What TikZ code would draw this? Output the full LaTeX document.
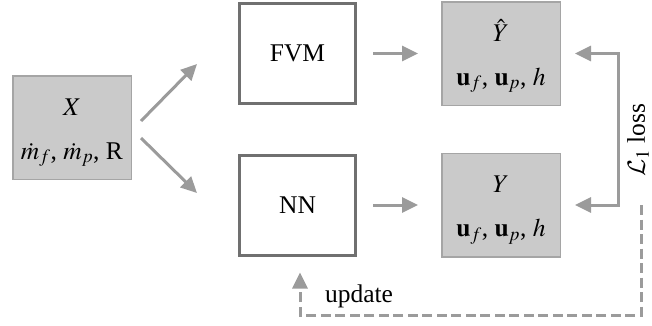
\documentclass[tikz,border=0pt]{standalone}
\usepackage{mathptmx}
\usepackage{fontspec}
\setmainfont{Liberation Serif}
\DeclareMathAlphabet{\mycal}{OMS}{cmsy}{m}{n}
\usetikzlibrary{arrows.meta}
\definecolor{arrgray}{RGB}{155,155,155}
\definecolor{darkbox}{RGB}{112,112,112}
\definecolor{fillg}{RGB}{202,202,202}
\definecolor{lightb}{RGB}{165,165,165}
\newcommand{\topstrut}{\rule{0pt}{27pt}}
\begin{document}
\begin{tikzpicture}[x=1pt,y=-1pt,
  every node/.style={font=\fontsize{25.5}{44}\selectfont, inner sep=0pt},
  graybox/.style={draw=lightb, fill=fillg, line width=1.5pt, minimum width=118.5pt, minimum height=103.5pt, align=center},
  whitebox/.style={draw=darkbox, line width=3pt, minimum width=116pt, minimum height=100pt},
  garrow/.style={draw=arrgray, line width=3pt, -{Triangle[length=16pt,width=15pt]}},
  gdarrow/.style={draw=arrgray, line width=3pt, {Triangle[length=16pt,width=15pt]}-{Triangle[length=16pt,width=15pt]}},
  gdash/.style={draw=arrgray, line width=3pt, dash pattern=on 10pt off 4.5pt, -{Triangle[length=16pt,width=15pt]}}
]
\useasboundingbox (0,0) rectangle (652,325);
\node[graybox] (X) at (72,127.5) {\topstrut$X$\\$\dot m_f$, $\dot m_p$, R};
\node[whitebox] (FVM) at (297.5,53.5) {FVM};
\node[whitebox] (NN) at (297.5,205) {NN};
\node[graybox] (Yhat) at (501,53.5) {\topstrut$\hat{Y}$\\$\mathbf{u}_f$, $\mathbf{u}_p$, $h$};
\node[graybox] (Y) at (501,205) {\topstrut$Y$\\$\mathbf{u}_f$, $\mathbf{u}_p$, $h$};
\draw[garrow] ([shift={(9,-6.5)}]X.east) -- ([shift={(-41,10.5)}]FVM.west);
\draw[garrow] ([shift={(9,10.5)}]X.east) -- ([shift={(-41,-12)}]NN.west);
\draw[garrow] ([xshift=16]FVM.east) -- ([xshift=-23]Yhat.west);
\draw[garrow] ([xshift=16]NN.east) -- ([xshift=-23]Y.west);
\draw[gdarrow] ([xshift=14]Yhat.east) -- ([xshift=57]Yhat.east) |- ([xshift=14]Y.east);
\node[rotate=90] (loss) at (638,140) {$\mycal{L}_1$ loss};
\coordinate (dstart) at ([xshift=80]Y.east);
\draw[gdash] (dstart) -- ++(0,110) -| ([shift={(2.5,16)}]NN.south);
\node[anchor=base] (upd) at (359,302) {update};
\end{tikzpicture}
\end{document}
